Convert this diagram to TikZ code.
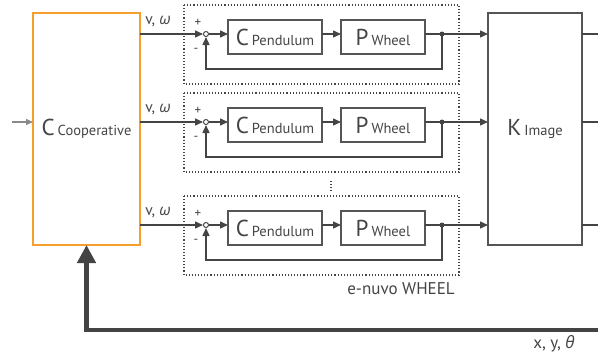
\documentclass[tikz,border=0pt]{standalone}
\usepackage{fontspec}
\setmainfont{PT Sans}
\newfontfamily\grk{Open Sans}
\usetikzlibrary{arrows.meta,calc}
\definecolor{ink}{HTML}{444444}
\definecolor{boxc}{HTML}{555555}
\definecolor{orng}{HTML}{F5A02A}
\definecolor{lgray}{HTML}{8A8A8A}
\newcommand{\blabel}[2]{{\fontsize{23}{23}\selectfont #1}\hspace{3pt}{\fontsize{14.5}{14.5}\selectfont #2}}
\begin{document}
\begin{tikzpicture}[x=1pt,y=-1pt,
  font=\color{ink},
  blk/.style={draw=boxc, line width=1.1pt, inner sep=0pt, outer sep=0pt, text=ink},
  conn/.style={draw=ink, line width=1.4pt, -{Triangle[length=8pt,width=7pt]}},
  plain/.style={draw=ink, line width=1.4pt},
  grp/.style={draw=ink, line width=1.1pt, dotted},
  lbl/.style={inner sep=0pt, text=ink, font=\fontsize{15.5}{15.5}\selectfont},
  sml/.style={inner sep=0pt, text=ink, font=\fontsize{13}{13}\selectfont}]
\useasboundingbox (0,0) rectangle (598,356);

\node[blk, draw=orng, minimum width=107pt, minimum height=232pt] (coop) at (86.5,129) {\blabel{C}{Cooperative}};
\node[blk, minimum width=94pt, minimum height=232pt] (kimg) at (535,129) {\blabel{K}{Image}};

\coordinate (in) at (12,122);
\draw[draw=lgray, line width=1.4pt, -{Triangle[length=7pt,width=6pt]}] (in) -- (in -| coop.west);

\foreach \i/\y in {1/34,2/122,3/225}{
  \draw[grp] (184,\y-29) rectangle (459,\y+50);
  \node[circle, draw=ink, fill=white, line width=1pt, minimum size=5pt, inner sep=0pt] (s\i) at (206,\y) {};
  \node[blk, minimum width=94pt, minimum height=34pt] (cp\i) at (275,\y+3) {\blabel{C}{Pendulum}};
  \node[blk, minimum width=84pt, minimum height=34pt] (pw\i) at (383,\y+3) {\blabel{P}{Wheel}};
  \node[circle, fill=ink, minimum size=5pt, inner sep=0pt] (b\i) at (442,\y) {};
  \coordinate (o\i) at (598,\y);
  \node[lbl] (v\i) at (158,\y-12) {v, {\grk\itshape ω}};
  \node[sml] (p\i) at (198,\y-11) {+};
  \node[sml] (m\i) at (196,\y+16) {-};
  \draw[conn] (s\i -| coop.east) -- (s\i.west);
  \draw[conn] (s\i.east) -- (s\i -| cp\i.west);
  \draw[conn] (s\i -| cp\i.east) -- (s\i -| pw\i.west);
  \draw[plain] (s\i -| pw\i.east) -- (b\i.center);
  \draw[conn] (b\i.center) -- (b\i -| kimg.west);
  \draw[conn] (b\i.center) -- ++(0,35) -| (s\i.south);
  \draw[plain] (o\i -| kimg.east) -- (o\i);
}
\draw[grp] (331,181) -- (331,191);
\node[inner sep=0pt, text=ink, font=\fontsize{17}{17}\selectfont] (ew) at (401,289) {e-nuvo WHEEL};

\coordinate (fb) at (598,330);
\draw[draw=ink, line width=4.5pt, -{Triangle[length=18pt,width=18pt]}] (fb) -| (coop.south);
\node[lbl, font=\fontsize{17}{17}\selectfont] (xy) at (554,344) {x, y, {\grk\itshape θ}};
\end{tikzpicture}
\end{document}
